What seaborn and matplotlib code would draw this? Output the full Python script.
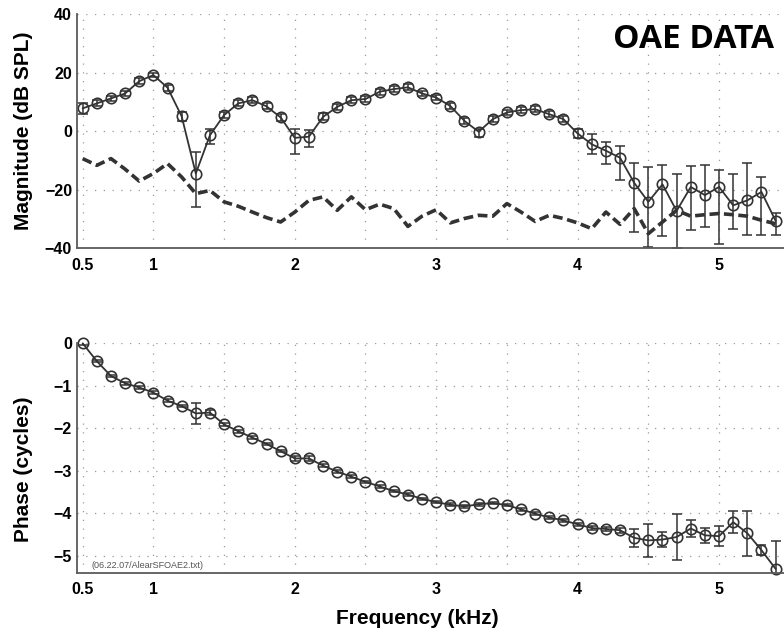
import numpy as np
import pandas as pd
import seaborn as sns
import matplotlib.pyplot as plt

# Stimulus frequencies (kHz)
freq_khz = [0.5, 0.6, 0.7, 0.8, 0.9, 1.0, 1.1, 1.2, 1.3, 1.4,
            1.5, 1.6, 1.7, 1.8, 1.9, 2.0, 2.1, 2.2, 2.3, 2.4,
            2.5, 2.6, 2.7, 2.8, 2.9, 3.0, 3.1, 3.2, 3.3, 3.4,
            3.5, 3.6, 3.7, 3.8, 3.9, 4.0, 4.1, 4.2, 4.3, 4.4,
            4.5, 4.6, 4.7, 4.8, 4.9, 5.0, 5.1, 5.2, 5.3, 5.4]

# SFOAE magnitude (dB SPL) with upper / lower error
magnitude_db = [7.8, 9.5, 11.2, 12.9, 17.1, 19.2, 14.9, 5.1, -14.5, -1.4,
                5.5, 9.5, 10.6, 8.5, 4.7, -2.3, -1.9, 4.9, 8.3, 10.6,
                11.0, 13.5, 14.4, 15.0, 12.9, 11.5, 8.6, 3.5, -0.2, 4.1,
                6.4, 7.2, 7.5, 5.8, 4.1, -0.8, -4.5, -6.7, -9.1, -17.7,
                -24.2, -18.2, -27.3, -19.1, -21.9, -19.1, -25.4, -23.7, -20.8, -30.7]
mag_err_hi = [2.0, 1.0, 1.0, 1.0, 1.0, 0.8, 1.0, 1.5, 7.2, 2.3,
              1.0, 1.0, 1.0, 1.0, 1.2, 3.0, 2.2, 1.2, 1.0, 1.0,
              1.0, 1.0, 1.0, 1.0, 1.0, 1.0, 1.0, 1.0, 1.0, 1.0,
              1.0, 1.0, 1.0, 1.0, 1.0, 1.5, 3.4, 3.0, 4.0, 6.8,
              12.0, 6.5, 12.6, 7.1, 10.2, 5.7, 10.9, 12.7, 5.1, 2.7]
mag_err_lo = [2.0, 1.0, 1.0, 1.0, 1.0, 0.8, 1.0, 1.5, 11.4, 3.1,
              1.0, 1.0, 1.0, 1.0, 1.2, 5.4, 3.5, 1.2, 1.0, 1.0,
              1.0, 1.0, 1.0, 1.0, 1.0, 1.0, 1.0, 1.0, 1.7, 1.0,
              1.0, 1.0, 1.0, 1.0, 1.0, 1.5, 3.4, 4.7, 7.5, 16.8,
              15.5, 17.8, 12.6, 14.6, 10.9, 19.4, 8.0, 12.0, 14.9, 5.0]

# Noise floor (dB SPL)
noise_floor_db = [-9.4, -11.7, -9.4, -13.0, -17.1, -14.5, -11.1, -15.7, -21.4, -20.3,
                  -24.2, -25.7, -27.7, -29.6, -31.1, -27.7, -23.7, -22.5, -27.1, -22.5,
                  -26.9, -25.0, -26.5, -32.6, -29.1, -26.9, -31.4, -29.9, -28.8, -29.1,
                  -24.8, -27.7, -30.9, -28.8, -29.9, -31.4, -33.4, -27.7, -31.9, -26.5,
                  -35.1, -31.1, -27.1, -29.1, -28.6, -28.2, -28.6, -29.1, -30.5, -31.7]

# SFOAE phase (cycles) with symmetric error
phase_cycles = [0.0, -0.42, -0.77, -0.94, -1.04, -1.16, -1.35, -1.48, -1.65, -1.63,
                -1.91, -2.07, -2.22, -2.37, -2.54, -2.71, -2.71, -2.88, -3.02, -3.14,
                -3.26, -3.37, -3.48, -3.56, -3.66, -3.74, -3.80, -3.84, -3.79, -3.76,
                -3.81, -3.91, -4.01, -4.10, -4.17, -4.26, -4.35, -4.37, -4.40, -4.58,
                -4.64, -4.62, -4.56, -4.36, -4.52, -4.54, -4.21, -4.47, -4.87, -5.31]
phase_err = [0.03, 0.03, 0.03, 0.03, 0.03, 0.03, 0.03, 0.03, 0.24, 0.05,
             0.03, 0.03, 0.03, 0.03, 0.03, 0.06, 0.06, 0.03, 0.03, 0.03,
             0.03, 0.03, 0.03, 0.03, 0.03, 0.03, 0.03, 0.03, 0.03, 0.03,
             0.03, 0.03, 0.03, 0.03, 0.03, 0.03, 0.04, 0.04, 0.06, 0.22,
             0.39, 0.18, 0.55, 0.21, 0.18, 0.23, 0.26, 0.53, 0.12, 0.65]

x_ticks = [0.5, 1.0, 1.5, 2.0, 2.5, 3.0, 3.5, 4.0, 4.5, 5.0, 5.5]
x_tick_labels = ["0.5", "1", "", "2", "", "3", "", "4", "", "5", ""]
mag_ticks = [-40, -20, 0, 20, 40]
phase_ticks = [-5, -4, -3, -2, -1, 0]

df = pd.DataFrame({
    "freq": freq_khz,
    "mag": magnitude_db,
    "noise": noise_floor_db,
    "phase": phase_cycles,
})

sns.set_theme(style="white")
plt.rcParams["font.family"] = ["Liberation Sans", "DejaVu Sans"]

INK = "#333333"
SPINE = "#5a5a5a"
W, H = 784, 636
fig = plt.figure(figsize=(W / 100, H / 100), dpi=100)


def axes_px(left, top, right, bottom):
    return fig.add_axes([left / W, 1 - bottom / H, (right - left) / W, (bottom - top) / H])


ax_mag = axes_px(77, 14.3, 789.75, 248)
ax_ph = axes_px(77, 343.3, 789.75, 572.7)

line_kw = dict(color=INK, linewidth=1.3, marker="o", markersize=7.5,
               markerfacecolor="none", markeredgecolor=INK, markeredgewidth=1.2)
err_kw = dict(fmt="none", ecolor=INK, elinewidth=1.1, capsize=3.6, capthick=1.1)
label_kw = dict(fontsize=15, fontweight="bold", color="black")

# Magnitude panel
ax_mag.errorbar(df["freq"], df["mag"], yerr=[mag_err_lo, mag_err_hi], **err_kw)
sns.lineplot(data=df, x="freq", y="noise", ax=ax_mag, color=INK, linewidth=2.6,
             dashes=False, linestyle=(0, (2.7, 1.3)))
sns.lineplot(data=df, x="freq", y="mag", ax=ax_mag, clip_on=False, **line_kw)
ax_mag.set_ylim(-40, 40)
ax_mag.set_yticks(mag_ticks)
ax_mag.set_ylabel("Magnitude (dB SPL)", **label_kw)
ax_mag.yaxis.set_label_coords(-0.0617, 0.5)
ax_mag.set_xlabel("")

# Phase panel
ax_ph.errorbar(df["freq"], df["phase"], yerr=phase_err, **err_kw)
sns.lineplot(data=df, x="freq", y="phase", ax=ax_ph, clip_on=False, **line_kw)
ax_ph.set_ylim(-5.4, 0)
ax_ph.set_yticks(phase_ticks)
ax_ph.set_ylabel("Phase (cycles)", **label_kw)
ax_ph.yaxis.set_label_coords(-0.0617, 0.452)
ax_ph.set_xlabel("Frequency (kHz)", **label_kw)
ax_ph.xaxis.set_label_coords(0.478, -0.16)

for ax in (ax_mag, ax_ph):
    ax.set_xlim(0.46, 5.5)
    ax.set_xticks(x_ticks)
    ax.set_xticklabels(x_tick_labels)
    ax.grid(True, color="#9a9a9a", linestyle=(0, (1, 6)), linewidth=0.9)
    ax.set_axisbelow(True)
    for side in ("top", "right"):
        ax.spines[side].set_visible(False)
    for side in ("left", "bottom"):
        ax.spines[side].set_color(SPINE)
        ax.spines[side].set_linewidth(1.3)
    ax.tick_params(axis="both", direction="in", length=5, width=1, color=SPINE,
                   labelsize=11.5, labelcolor="black")
    ax.tick_params(axis="x", pad=7)
    ax.tick_params(axis="y", pad=3.6)
    for lbl in ax.get_xticklabels() + ax.get_yticklabels():
        lbl.set_fontweight("bold")
    if ax.get_legend() is not None:
        ax.get_legend().remove()

fig.text(693.5 / W, 1 - 39.5 / H, "OAE DATA", fontsize=24, fontweight="bold",
         family=["Open Sans", "DejaVu Sans"], ha="center", va="center", color="black")
fig.text(92 / W, 1 - 565 / H, "(06.22.07/AlearSFOAE2.txt)", fontsize=6.5,
         color="#555555", ha="left", va="center")

fig.savefig("out.png", dpi=100)
